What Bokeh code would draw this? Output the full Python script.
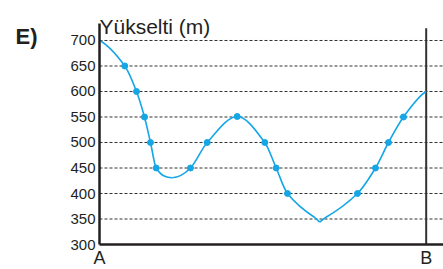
from bokeh.plotting import figure
from bokeh.models import Range1d, FixedTicker, Label
from bokeh.embed import file_html
from bokeh.resources import INLINE

# ---- data ----
dist = [0, 7.74, 11.33, 13.77, 15.61, 17.36, 22.25, 27.85, 32.97, 42.15, 50.6,
        54.08, 57.54, 66.1, 67.4, 68.96, 78.97, 84.48, 88.46, 93.05, 100]
elev = [700, 650, 600, 550, 500, 450, 431, 450, 500, 551, 500,
        450, 400, 352, 344, 352, 400, 450, 500, 550, 600]
dot_idx = [1, 2, 3, 4, 5, 7, 8, 9, 10, 11, 12, 16, 17, 18, 19]
cusp_idx = 14
y_ticks = [300, 350, 400, 450, 500, 550, 600, 650, 700]
point_names = ["A", "B"]
point_pos = [0, 100]
y_title = "Yükselti (m)"
panel = "E)"

FONT = "Liberation Sans"
BLUE = "#15a6e6"
INK = "#231f20"

X0, X1 = -30.3, 105.3
Y0, Y1 = 251.0, 778.4
Y_TOP = 733.3

p = figure(width=443, height=269, output_backend="svg", toolbar_location=None,
           x_range=Range1d(X0, X1), y_range=Range1d(Y0, Y1),
           min_border_left=0, min_border_right=0, min_border_top=0,
           min_border_bottom=0)
p.outline_line_color = None
p.background_fill_color = "white"
p.border_fill_color = "white"
p.xgrid.visible = False
p.ygrid.visible = False

# y axis placed at A
p.yaxis.fixed_location = point_pos[0]
p.yaxis.bounds = (y_ticks[0], Y_TOP)
p.yaxis.ticker = FixedTicker(ticks=y_ticks)
p.yaxis.major_tick_line_color = None
p.yaxis.major_tick_out = 0
p.yaxis.major_tick_in = 0
p.yaxis.minor_tick_line_color = None
p.yaxis.major_label_standoff = 4
p.yaxis.major_label_text_font = FONT
p.yaxis.major_label_text_font_size = "15px"
p.yaxis.major_label_text_color = INK
p.yaxis.axis_line_width = 2.5
p.yaxis.axis_line_color = INK

# x axis placed at 300 m
p.xaxis.fixed_location = y_ticks[0]
p.xaxis.bounds = (point_pos[0], X1)
p.xaxis.ticker = FixedTicker(ticks=point_pos)
p.xaxis.major_label_overrides = {pos: name for pos, name in zip(point_pos, point_names)}
p.xaxis.major_tick_line_color = None
p.xaxis.major_tick_out = 0
p.xaxis.major_tick_in = 0
p.xaxis.minor_tick_line_color = None
p.xaxis.major_label_standoff = 3
p.xaxis.major_label_text_font = FONT
p.xaxis.major_label_text_font_size = "18px"
p.xaxis.major_label_text_color = INK
p.xaxis.axis_line_width = 2.5
p.xaxis.axis_line_color = INK

# dashed horizontal grid lines from A to the right edge
gy = y_ticks[1:]
p.segment(x0=[point_pos[0]] * len(gy), y0=gy, x1=[X1] * len(gy), y1=gy,
          line_color="#333333", line_dash="3 2", line_width=1)

# right vertical line at B
p.segment(x0=[point_pos[1]], y0=[y_ticks[0]], x1=[point_pos[1]], y1=[724],
          line_color="#333333", line_width=2)

# smooth curve (cubic Hermite -> Bezier)
n = len(dist)
m = []
for i in range(n):
    if i == 0:
        m.append(0.5 * (elev[1] - elev[0]) / (dist[1] - dist[0]))
    elif i == n - 1:
        m.append(0.5 * (elev[-1] - elev[-2]) / (dist[-1] - dist[-2]))
    else:
        a, b = i - 1, i + 1
        if a == cusp_idx:
            a -= 1
        if b == cusp_idx:
            b += 1
        m.append((elev[b] - elev[a]) / (dist[b] - dist[a]))

x0s, y0s, x1s, y1s, cx0, cy0, cx1, cy1 = [], [], [], [], [], [], [], []
for i in range(n - 1):
    xa, ya, xb, yb = dist[i], elev[i], dist[i + 1], elev[i + 1]
    dx = xb - xa
    if i == cusp_idx - 1 or i == cusp_idx:
        ma = mb = (yb - ya) / dx
    else:
        ma, mb = m[i], m[i + 1]
    x0s.append(xa); y0s.append(ya); x1s.append(xb); y1s.append(yb)
    cx0.append(xa + dx / 3); cy0.append(ya + ma * dx / 3)
    cx1.append(xb - dx / 3); cy1.append(yb - mb * dx / 3)

p.bezier(x0=x0s, y0=y0s, x1=x1s, y1=y1s, cx0=cx0, cy0=cy0, cx1=cx1, cy1=cy1,
         line_color=BLUE, line_width=1.6)

p.scatter([dist[i] for i in dot_idx], [elev[i] for i in dot_idx], size=6,
          marker="circle", fill_color=BLUE, line_color=BLUE)

# texts
p.add_layout(Label(x=0, y=727.5, text=y_title, text_font=FONT,
                   text_font_size="21px", text_color=INK, text_align="left",
                   text_baseline="alphabetic"))
p.add_layout(Label(x=-25.7, y=707.8, text=panel, text_font=FONT,
                   text_font_size="22px", text_font_style="bold", text_color=INK,
                   text_align="left", text_baseline="alphabetic"))

open("out.html", "w").write(file_html(p, INLINE))
